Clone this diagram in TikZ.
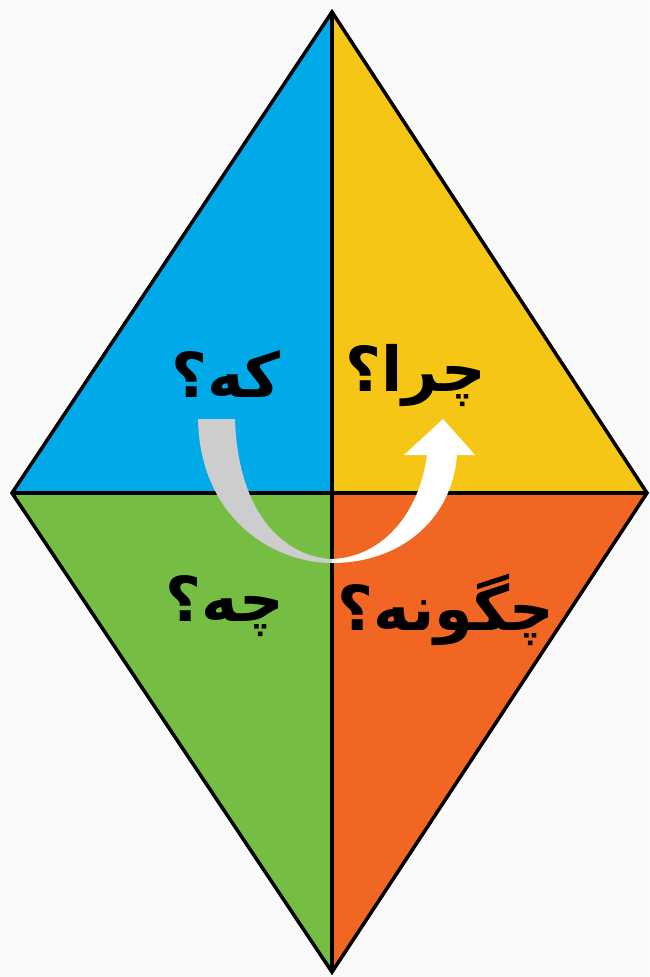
\documentclass[tikz,border=0pt]{standalone}
\usepackage{fontspec}
\TeXXeTstate=1
\newfontfamily\arabicfont[Script=Arabic]{DejaVu Sans}
\definecolor{cblue}{HTML}{00AAE9}
\definecolor{cyellow}{HTML}{F5C615}
\definecolor{cgreen}{HTML}{76BD43}
\definecolor{corange}{HTML}{F06622}
\definecolor{cgray}{HTML}{CDCDCD}
\definecolor{bg}{HTML}{FAFAFA}
\tikzset{
  quad/.style={draw=black,line width=3.5pt,line join=miter},
  lbl/.style={font=\arabicfont\bfseries\fontsize{62}{66}\selectfont,inner sep=0pt},
}
\begin{document}
\begin{tikzpicture}[x=1pt,y=-1pt]
\fill[bg] (0,0) rectangle (649,977);
\useasboundingbox (0,0) rectangle (649,977);
\coordinate (T) at (332,12);
\coordinate (L) at (12,493);
\coordinate (R) at (647,493);
\coordinate (B) at (332,972);
\coordinate (C) at (332,493);
\fill[cblue] (T) -- (L) -- (C) -- cycle;
\fill[cyellow] (T) -- (R) -- (C) -- cycle;
\fill[cgreen] (B) -- (L) -- (C) -- cycle;
\fill[corange] (B) -- (R) -- (C) -- cycle;
\draw[quad] (T) -- (R) -- (B) -- (L) -- cycle;
\draw[quad] (T) -- (B);
\draw[quad] (L) -- (R);
\node[lbl] (who) at (226,374) {\beginR که؟\endR};
\node[lbl] (why) at (416,376) {\beginR چرا؟\endR};
\node[lbl] (what) at (225,606) {\beginR چه؟\endR};
\node[lbl] (how) at (446,610) {\beginR چگونه؟\endR};
% arrow
\fill[cgray] (198,419) .. controls (200,520) and (275,563) .. (332,563)
  -- (332,559) .. controls (285,557) and (238,515) .. (235,419) -- cycle;
\fill[white] (332,563) .. controls (400,563) and (452,520) .. (457,455)
  -- (475,455) -- (443,419) -- (404,455) -- (427,455)
  .. controls (420,510) and (385,557) .. (332,559) -- cycle;
\end{tikzpicture}
\end{document}
